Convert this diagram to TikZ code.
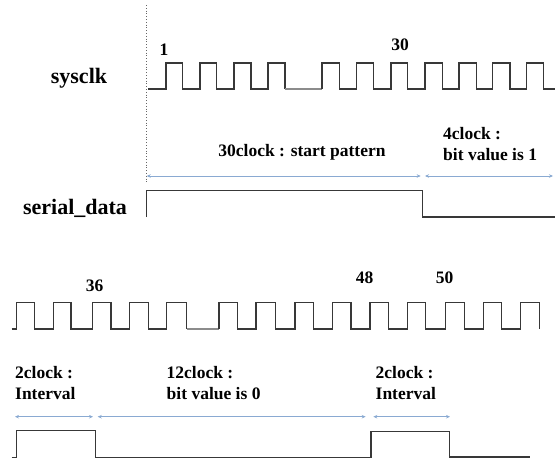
\documentclass[tikz,border=0pt]{standalone}
\usepackage{fontspec}
\setmainfont{Liberation Serif}
\usetikzlibrary{arrows.meta}
\tikzset{
  sig/.style={draw=black!78, line width=1.3pt, line join=miter},
  gapline/.style={draw=black!45, line width=1.1pt},
  dim/.style={draw=arrowblue, line width=0.8pt, {Stealth[length=4pt,width=3.5pt]}-{Stealth[length=4pt,width=3.5pt]}},
  biglbl/.style={font=\bfseries\fontsize{22}{26}\selectfont, inner sep=0pt},
  lbl/.style={font=\bfseries\fontsize{17.5}{21}\selectfont, inner sep=0pt},
  lbl2/.style={font=\bfseries\fontsize{17.5}{21}\selectfont, inner sep=0pt, align=left, anchor=west}
}
\definecolor{arrowblue}{HTML}{8AAAD2}
\begin{document}
\begin{tikzpicture}[x=1pt,y=-1pt]
\useasboundingbox (0,0) rectangle (556,461);
% labels
\node[biglbl] (sysclk) at (79,78) {sysclk};
\node[biglbl] (serial) at (75,208) {serial\_data};
\node[lbl] (n1) at (164,50) {1};
\node[lbl] (n30) at (400,45) {30};
\node[lbl] (n36) at (94.5,286) {36};
\node[lbl] (n48) at (364.5,278) {48};
\node[lbl] (n50) at (444.5,278) {50};
\node[lbl] (start) at (302,152) {30clock : start pattern};
\node[lbl2] (bit1) at (443,144.5) {4clock :\\bit value is 1};
\node[lbl2] (int1) at (15,383.5) {2clock :\\Interval};
\node[lbl2] (bit0) at (166.5,383.5) {12clock :\\bit value is 0};
\node[lbl2] (int2) at (375.5,383.5) {2clock :\\Interval};
% dotted vertical
\coordinate (vtop) at (146.7,5);
\coordinate (vbot) at (146.7,184);
\draw[black!60, line width=0.8pt, dotted] (vtop) -- (vbot);
% top clock
\draw[sig] (148.3,89) -- (166,89) -- (166,63) -- (182.7,63) -- (182.7,89)
  -- (200,89) -- (200,63) -- (216.7,63) -- (216.7,89)
  -- (234,89) -- (234,63) -- (251,63) -- (251,89)
  -- (268,89) -- (268,63) -- (285,63) -- (285,89);
\draw[gapline] (285,89) -- (322,89);
\draw[sig] (322,89) -- (322,63) -- (339.5,63) -- (339.5,89)
  -- (356.3,89) -- (356.3,63) -- (373.5,63) -- (373.5,89)
  -- (391,89) -- (391,63) -- (407.5,63) -- (407.5,89)
  -- (425,89) -- (425,63) -- (442.3,63) -- (442.3,89)
  -- (459,89) -- (459,63) -- (476.7,63) -- (476.7,89)
  -- (492.7,89) -- (492.7,63) -- (510,63) -- (510,89)
  -- (526.7,89) -- (526.7,63) -- (543.3,63) -- (543.3,89) -- (555,89);
% top dimension arrows
\coordinate (a1) at (146.7,176);
\coordinate (a2) at (420.7,176);
\coordinate (a3) at (425,176);
\coordinate (a4) at (553,176);
\draw[dim] (a1) -- (a2);
\draw[dim] (a3) -- (a4);
% top serial data
\draw[sig] (146.7,217) -- (146.7,190.7) -- (422.7,190.7) -- (422.7,217) -- (555,217);
% bottom clock
\draw[sig] (11.7,329) -- (16.7,329) -- (16.7,302.3) -- (34.3,302.3) -- (34.3,329)
  -- (53.3,329) -- (53.3,302.3) -- (71,302.3) -- (71,329)
  -- (92.3,329) -- (92.3,302.3) -- (111,302.3) -- (111,329)
  -- (129.3,329) -- (129.3,302.3) -- (148.3,302.3) -- (148.3,329)
  -- (166.7,329) -- (166.7,302.3) -- (186.7,302.3) -- (186.7,329);
\draw[gapline] (186.7,329) -- (219,329);
\draw[sig] (219,329) -- (219,302.3) -- (237.7,302.3) -- (237.7,329)
  -- (256,329) -- (256,302.3) -- (275.5,302.3) -- (275.5,329)
  -- (295,329) -- (295,302.3) -- (313.3,302.3) -- (313.3,329)
  -- (332.7,329) -- (332.7,302.3) -- (351,302.3) -- (351,329)
  -- (370,329) -- (370,302.3) -- (388.3,302.3) -- (388.3,329)
  -- (407.7,329) -- (407.7,302.3) -- (425.7,302.3) -- (425.7,329)
  -- (445.7,329) -- (445.7,302.3) -- (464.3,302.3) -- (464.3,329)
  -- (483.3,329) -- (483.3,302.3) -- (501.7,302.3) -- (501.7,329)
  -- (520.7,329) -- (520.7,302.3) -- (539.3,302.3) -- (539.3,329);
% bottom dimension arrows
\coordinate (b1) at (15,416.7);
\coordinate (b2) at (93,416.7);
\coordinate (b3) at (97.7,416.7);
\coordinate (b4) at (365.7,416.7);
\coordinate (b5) at (373.3,416.7);
\coordinate (b6) at (450,416.7);
\draw[dim] (b1) -- (b2);
\draw[dim] (b3) -- (b4);
\draw[dim] (b5) -- (b6);
% bottom serial data
\draw[sig] (11.7,457.3) -- (16.7,457.3) -- (16.7,430.7) -- (95.7,430.7) -- (95.7,457.3)
  -- (371,457.3) -- (371,431.5) -- (449.3,431.5) -- (449.3,457) -- (530,457);
\end{tikzpicture}
\end{document}
